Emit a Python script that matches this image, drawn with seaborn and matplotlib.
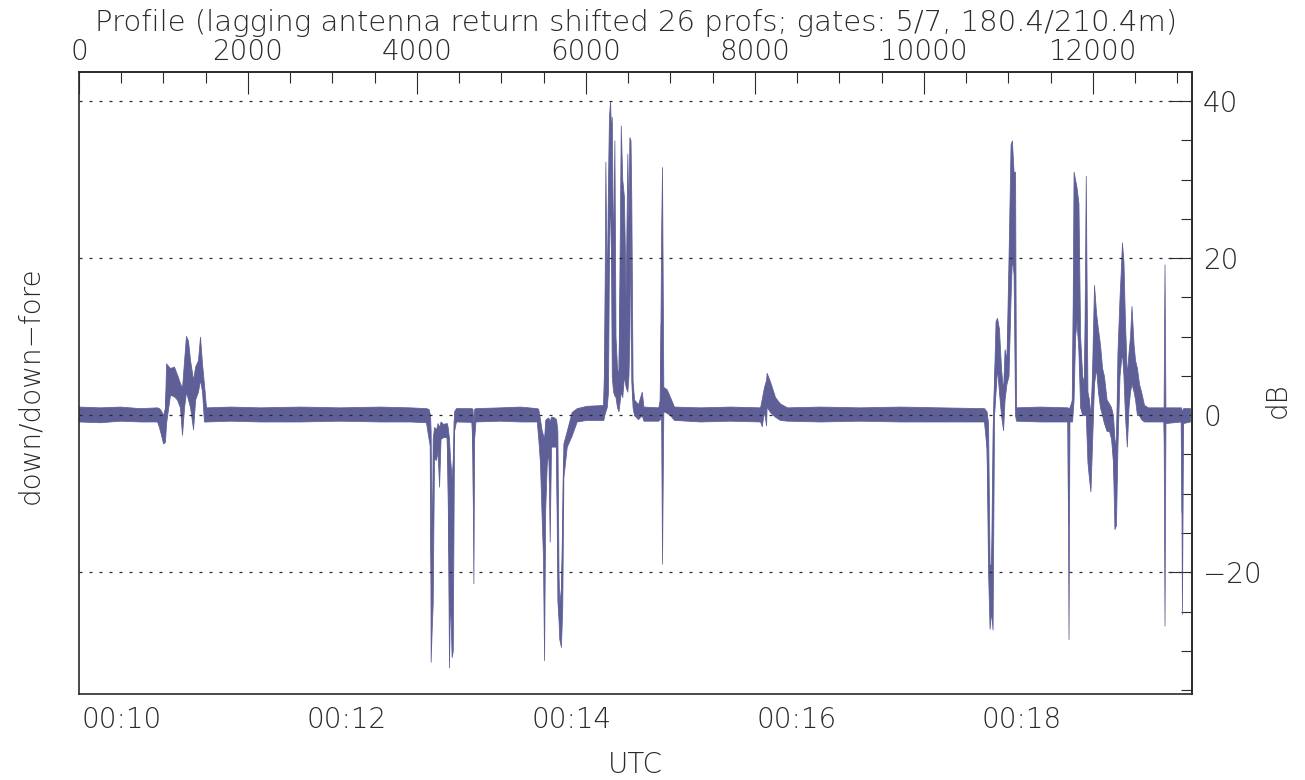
import numpy as np
import pandas as pd
import matplotlib
matplotlib.use("Agg")
import matplotlib.pyplot as plt
from matplotlib.ticker import MultipleLocator, FuncFormatter, NullFormatter
import seaborn as sns

# ---------------------------------------------------------------------------
# Data: down / down-fore return ratio (dB) versus UTC time (seconds of day).
# Each knot stores the lowest and highest value of the dense profile trace
# around that instant, so the plotted band is the min/max envelope.
# ---------------------------------------------------------------------------
t_utc_s = [
    577.1, 588.3, 598.9, 609.6, 618.7,
    619.7, 620.8, 621.9, 622.9, 623.5, 625.6, 627.7, 629.3, 630.9, 632.0, 633.1,
    634.1, 635.2, 636.3, 637.9, 639.0, 640.5, 641.6, 642.7, 643.7, 644.8,
    657.6, 673.6, 694.9, 716.3, 737.6, 753.6, 762.1,
    763.5, 764.3, 764.6, 765.2, 765.7, 766.4, 767.5, 768.3, 769.1, 769.9, 771.2,
    773.2, 773.7, 774.4, 774.9, 775.8, 776.4, 777.1, 778.1, 786.4, 786.9, 787.4,
    787.8, 788.5,
    801.6, 812.3, 821.2,
    822.0, 822.9, 823.8, 824.5, 825.1, 825.7, 826.5, 827.4, 828.1, 828.8, 829.9,
    831.5, 832.2, 832.8, 833.2, 834.1, 834.8, 835.4, 837.2, 839.8, 842.5, 847.8,
    856.7,
    857.2, 857.8, 858.5, 859.2, 859.7, 860.3, 860.8, 861.2, 861.9, 862.6, 863.2,
    864.0, 864.8, 866.0, 866.8, 867.7, 868.6, 869.5, 870.1, 870.6, 871.2, 871.6,
    872.3, 873.1, 875.2, 877.2, 878.1, 886.0, 886.9, 887.5, 888.0, 888.7, 890.5,
    892.3, 894.4,
    908.3, 924.3, 940.3,
    941.2, 942.4, 943.5, 943.8, 945.6, 948.3, 950.9, 954.7,
    972.2, 993.6, 1014.9, 1036.3, 1059.7,
    1061.1, 1061.9, 1062.7, 1063.5, 1064.3, 1065.1, 1065.9, 1066.7, 1067.7,
    1068.8, 1069.9, 1070.7, 1071.7, 1072.8, 1073.9, 1074.6, 1075.5, 1076.3,
    1076.8,
    1089.6, 1104.3, 1104.8, 1105.3,
    1106.7, 1107.5, 1108.3, 1109.1, 1110.1, 1111.0, 1112.1, 1113.1, 1114.0,
    1114.9, 1115.7, 1116.5, 1117.3, 1118.4, 1119.5, 1120.5, 1121.6, 1122.7,
    1123.7, 1125.1, 1126.4, 1127.5, 1128.5, 1129.3, 1130.1, 1130.9, 1132.0,
    1132.8, 1133.3, 1134.1, 1134.9, 1135.9, 1136.8, 1137.6, 1138.4, 1139.5,
    1140.3, 1141.3, 1142.4, 1143.5, 1145.1, 1147.2,
    1155.5, 1156.0, 1156.5, 1164.8, 1165.3, 1165.9, 1169.6,
]

ratio_lo_db = [
    -0.8, -0.9, -0.7, -0.8, -0.8,
    -1.5, -2.5, -3.6, -3.4, -1.0, 2.6, 2.4, 2.0, 1.0, -2.5, 1.0,
    3.0, 2.0, 1.0, -1.8, 2.0, 3.0, 4.5, 3.0, -0.8, -0.8,
    -0.7, -0.8, -0.8, -0.7, -0.8, -0.8, -0.9,
    -3.0, -4.0, -31.4, -27.0, -24.0, -5.5, -5.7, -4.5, -9.1, -3.0, -2.8,
    -2.8, -10.0, -32.1, -22.7, -30.8, -30.0, -2.0, -0.8, -0.85, -5.0, -21.4,
    -3.0, -0.8,
    -0.7, -0.8, -0.8,
    -3.0, -6.0, -13.0, -18.0, -31.2, -12.0, -6.4, -4.5, -16.1, -4.0, -4.0,
    -4.0, -23.6, -26.0, -28.5, -29.5, -24.4, -7.9, -4.0, -2.6, -0.8, -0.6,
    -0.6,
    0.0, 0.5, 1.0, 3.0, 20.0, 28.7, 20.0, 5.0, 3.0, 2.5, 2.3,
    1.0, 0.5, 3.0, 2.3, 5.0, 3.6, 3.0, 5.0, 10.0, 24.4, 4.4,
    1.0, 0.0, -0.5, 0.0, -0.7, -0.7, -0.5, 0.5, -18.9, 0.5, 0.3,
    0.0, -0.6,
    -0.8, -0.7, -0.8,
    -1.4, 0.5, -1.3, 1.1, 0.4, -0.2, -0.6, -0.7,
    -0.8, -0.7, -0.8, -0.8, -0.8,
    -4.2, -20.0, -27.2, -25.0, -27.3, 0.0, 3.0, 6.0, 3.0,
    0.0, -1.9, 2.0, 4.0, 5.0, 15.0, 20.0, 18.0, 0.0,
    -0.7,
    -0.8, -0.8, -28.5, -0.8,
    -0.8, 2.0, 10.0, 12.0, 8.0, 1.0, 0.0, 0.0, 0.0,
    -6.0, -8.0, -9.7, -4.0, 4.0, 6.0, 3.0, 1.0, 0.0,
    -1.0, -2.0, -2.0, -3.0, -6.0, -14.5, -14.0, -4.0, 5.0,
    7.0, 8.0, 5.0, 0.0, -4.0, 1.0, 3.0, 4.0, 3.0,
    2.0, 0.0, 0.0, -0.5, -0.8, -0.8,
    -0.8, -26.8, -1.0, -0.8, -25.3, -1.0, -0.8,
]

ratio_hi_db = [
    1.1, 1.0, 1.1, 0.9, 1.0,
    0.9, 0.6, 0.0, 1.0, 6.6, 6.0, 6.2, 5.2, 4.1, 3.5, 7.0,
    10.1, 9.5, 7.0, 4.5, 6.2, 7.0, 10.0, 6.5, 4.0, 1.0,
    1.1, 1.0, 1.1, 1.0, 1.1, 1.0, 0.9,
    0.8, 0.0, -2.0, -18.9, -3.0, -1.5, -1.8, -1.0, -1.5, -0.8, -1.1,
    -1.0, -1.5, -3.0, -5.3, -8.0, -5.6, 0.5, 0.9, 0.9, 0.8, -1.0,
    0.8, 0.9,
    1.0, 1.1, 0.9,
    0.8, -0.5, -1.9, -2.5, -3.0, -0.6, -0.4, -0.3, -0.8, -0.2, -0.2,
    -0.5, -2.0, -20.0, -24.0, -22.0, -12.5, -3.6, -2.0, 0.4, 0.9, 1.2,
    1.3,
    8.0, 32.3, 15.0, 30.0, 38.0, 40.0, 36.0, 38.0, 20.0, 35.0, 10.0,
    6.0, 5.0, 36.9, 30.0, 27.8, 15.0, 33.3, 25.0, 35.4, 35.0, 28.0,
    4.4, 2.0, 1.4, 3.0, 1.1, 1.0, 2.0, 22.7, 31.6, 3.6, 3.3,
    2.3, 1.1,
    1.0, 1.1, 1.0,
    2.1, 3.6, 4.5, 5.4, 4.3, 2.3, 1.5, 1.0,
    1.1, 1.0, 1.1, 1.0, 0.9,
    0.5, -1.0, -19.0, -19.0, -2.0, 4.8, 12.0, 12.4, 11.0,
    6.0, 3.0, 8.4, 7.0, 20.0, 34.5, 35.0, 31.0, 31.0,
    1.0,
    1.1, 1.0, 0.9, 1.0,
    2.0, 31.0, 30.0, 29.0, 27.0, 10.0, 5.0, 4.0, 30.5,
    3.0, 2.0, 0.0, 5.0, 16.6, 13.0, 11.0, 9.0, 6.0,
    5.0, 2.0, 1.5, 1.0, 0.0, -3.0, -4.0, 8.0, 15.0,
    19.0, 22.0, 19.6, 12.0, 5.0, 8.0, 10.0, 13.9, 9.0,
    7.0, 6.0, 4.0, 3.0, 1.3, 1.0,
    1.0, 19.2, 1.0, 1.0, 0.5, 0.9, 0.9,
]

# Reference levels marked by dotted lines (dB)
grid_levels_db = [-20, 0, 20, 40]

# Profile counter along the top axis: profile 0 at the first sample time
PROFILE_T0_S = 577.06
PROFILES_PER_S = 22.19

TITLE = "Profile (lagging antenna return shifted 26 profs; gates: 5/7, 180.4/210.4m)"
LINE_COLOR = "#5f5f97"
INK = "#2a2a2a"
FS = 20

# ---------------------------------------------------------------------------
sns.set_style("white")
plt.rcParams["font.family"] = ["DejaVu Sans"]
plt.rcParams["font.weight"] = 200
plt.rcParams["axes.unicode_minus"] = True

n = len(t_utc_s)
assert len(ratio_lo_db) == n and len(ratio_hi_db) == n

envelope = pd.DataFrame({
    "t": t_utc_s + t_utc_s,
    "db": ratio_lo_db + ratio_hi_db,
})

fig = plt.figure(figsize=(13.05, 7.8), dpi=100)
ax = fig.add_axes([79 / 1305, 1 - 694 / 780, 1113 / 1305, 622 / 780])

sns.lineplot(
    data=envelope, x="t", y="db",
    estimator="mean", errorbar=("pi", 100),
    color=LINE_COLOR, linewidth=0.5,
    err_kws=dict(alpha=1.0, linewidth=0.55, edgecolor=LINE_COLOR,
                 facecolor=LINE_COLOR),
    ax=ax, zorder=2,
)

for lvl in grid_levels_db:
    ax.axhline(lvl, color=INK, linewidth=0.9, linestyle=(0, (2.4, 5.6)),
               zorder=3)

ax.set_xlim(577.06, 1170.66)
ax.set_ylim(-35.5, 43.7)
ax.set_xlabel("")
ax.set_ylabel("")

# Bottom axis: UTC hh:mm
def hhmm(v, _pos):
    v = int(round(v))
    return f"{v // 3600:02d}:{(v % 3600) // 60:02d}"

ax.xaxis.set_major_locator(MultipleLocator(120))
ax.xaxis.set_minor_locator(MultipleLocator(30))
ax.xaxis.set_major_formatter(FuncFormatter(hhmm))
ax.tick_params(axis="x", which="major", direction="in", length=16, width=0.8,
               color=INK, pad=9, labelsize=FS, labelcolor=INK, top=False)
ax.tick_params(axis="x", which="minor", direction="in", length=8, width=0.8,
               color=INK, top=False)

# Left axis: ticks only
ax.yaxis.set_major_locator(MultipleLocator(5))
ax.yaxis.set_major_formatter(NullFormatter())
ax.tick_params(axis="y", which="major", direction="in", length=12, width=0.8,
               color=INK, labelleft=False, right=False)

for sp in ax.spines.values():
    sp.set_visible(True)
    sp.set_color(INK)
    sp.set_linewidth(1.2)

# Right axis: dB labels
ry = ax.secondary_yaxis("right")
ry.yaxis.set_major_locator(MultipleLocator(20))
ry.yaxis.set_minor_locator(MultipleLocator(5))
ry.yaxis.set_major_formatter(
    FuncFormatter(lambda v, p: f"{int(round(v))}".replace("-", "\u2212")))
ry.tick_params(axis="y", which="major", direction="in", length=17, width=0.8,
               color=INK, pad=8, labelsize=FS, labelcolor=INK)
ry.tick_params(axis="y", which="minor", direction="in", length=8, width=0.8,
               color=INK)
for sp in ry.spines.values():
    sp.set_color(INK)
    sp.set_linewidth(1.2)

# Top axis: profile number
def t_to_profile(t):
    return (np.asarray(t) - PROFILE_T0_S) * PROFILES_PER_S

def profile_to_t(p):
    return np.asarray(p) / PROFILES_PER_S + PROFILE_T0_S

tx = ax.secondary_xaxis("top", functions=(t_to_profile, profile_to_t))
tx.xaxis.set_major_locator(MultipleLocator(2000))
tx.xaxis.set_minor_locator(MultipleLocator(500))
tx.xaxis.set_major_formatter(FuncFormatter(lambda v, p: f"{int(round(v))}"))
tx.tick_params(axis="x", which="major", direction="in", length=16, width=0.8,
               color=INK, pad=4, labelsize=FS, labelcolor=INK)
tx.tick_params(axis="x", which="minor", direction="in", length=8, width=0.8,
               color=INK)
for sp in tx.spines.values():
    sp.set_color(INK)
    sp.set_linewidth(1.2)

# Unused, empty text slots of the axes are switched off
for a in (ax, tx, ry):
    for t in (a.title, a._left_title, a._right_title):
        t.set_visible(False)
    a.xaxis.offsetText.set_visible(False)
    a.yaxis.offsetText.set_visible(False)
tx.xaxis.label.set_visible(False)
ry.yaxis.label.set_visible(False)

fig.text(636 / 1305, 1 - 23 / 780, TITLE, ha="center", va="center",
         fontsize=21, color=INK)
fig.text(635 / 1305, 1 - 765 / 780, "UTC", ha="center", va="center",
         fontsize=FS, color=INK)
fig.text(30 / 1305, 1 - 385 / 780, "down/down\u2212fore", rotation=90,
         ha="center", va="center", fontsize=FS, color=INK)
fig.text(1278 / 1305, 1 - 400 / 780, "dB", rotation=90, ha="center",
         va="center", fontsize=FS, color=INK)

fig.savefig("out.png", dpi=100)
